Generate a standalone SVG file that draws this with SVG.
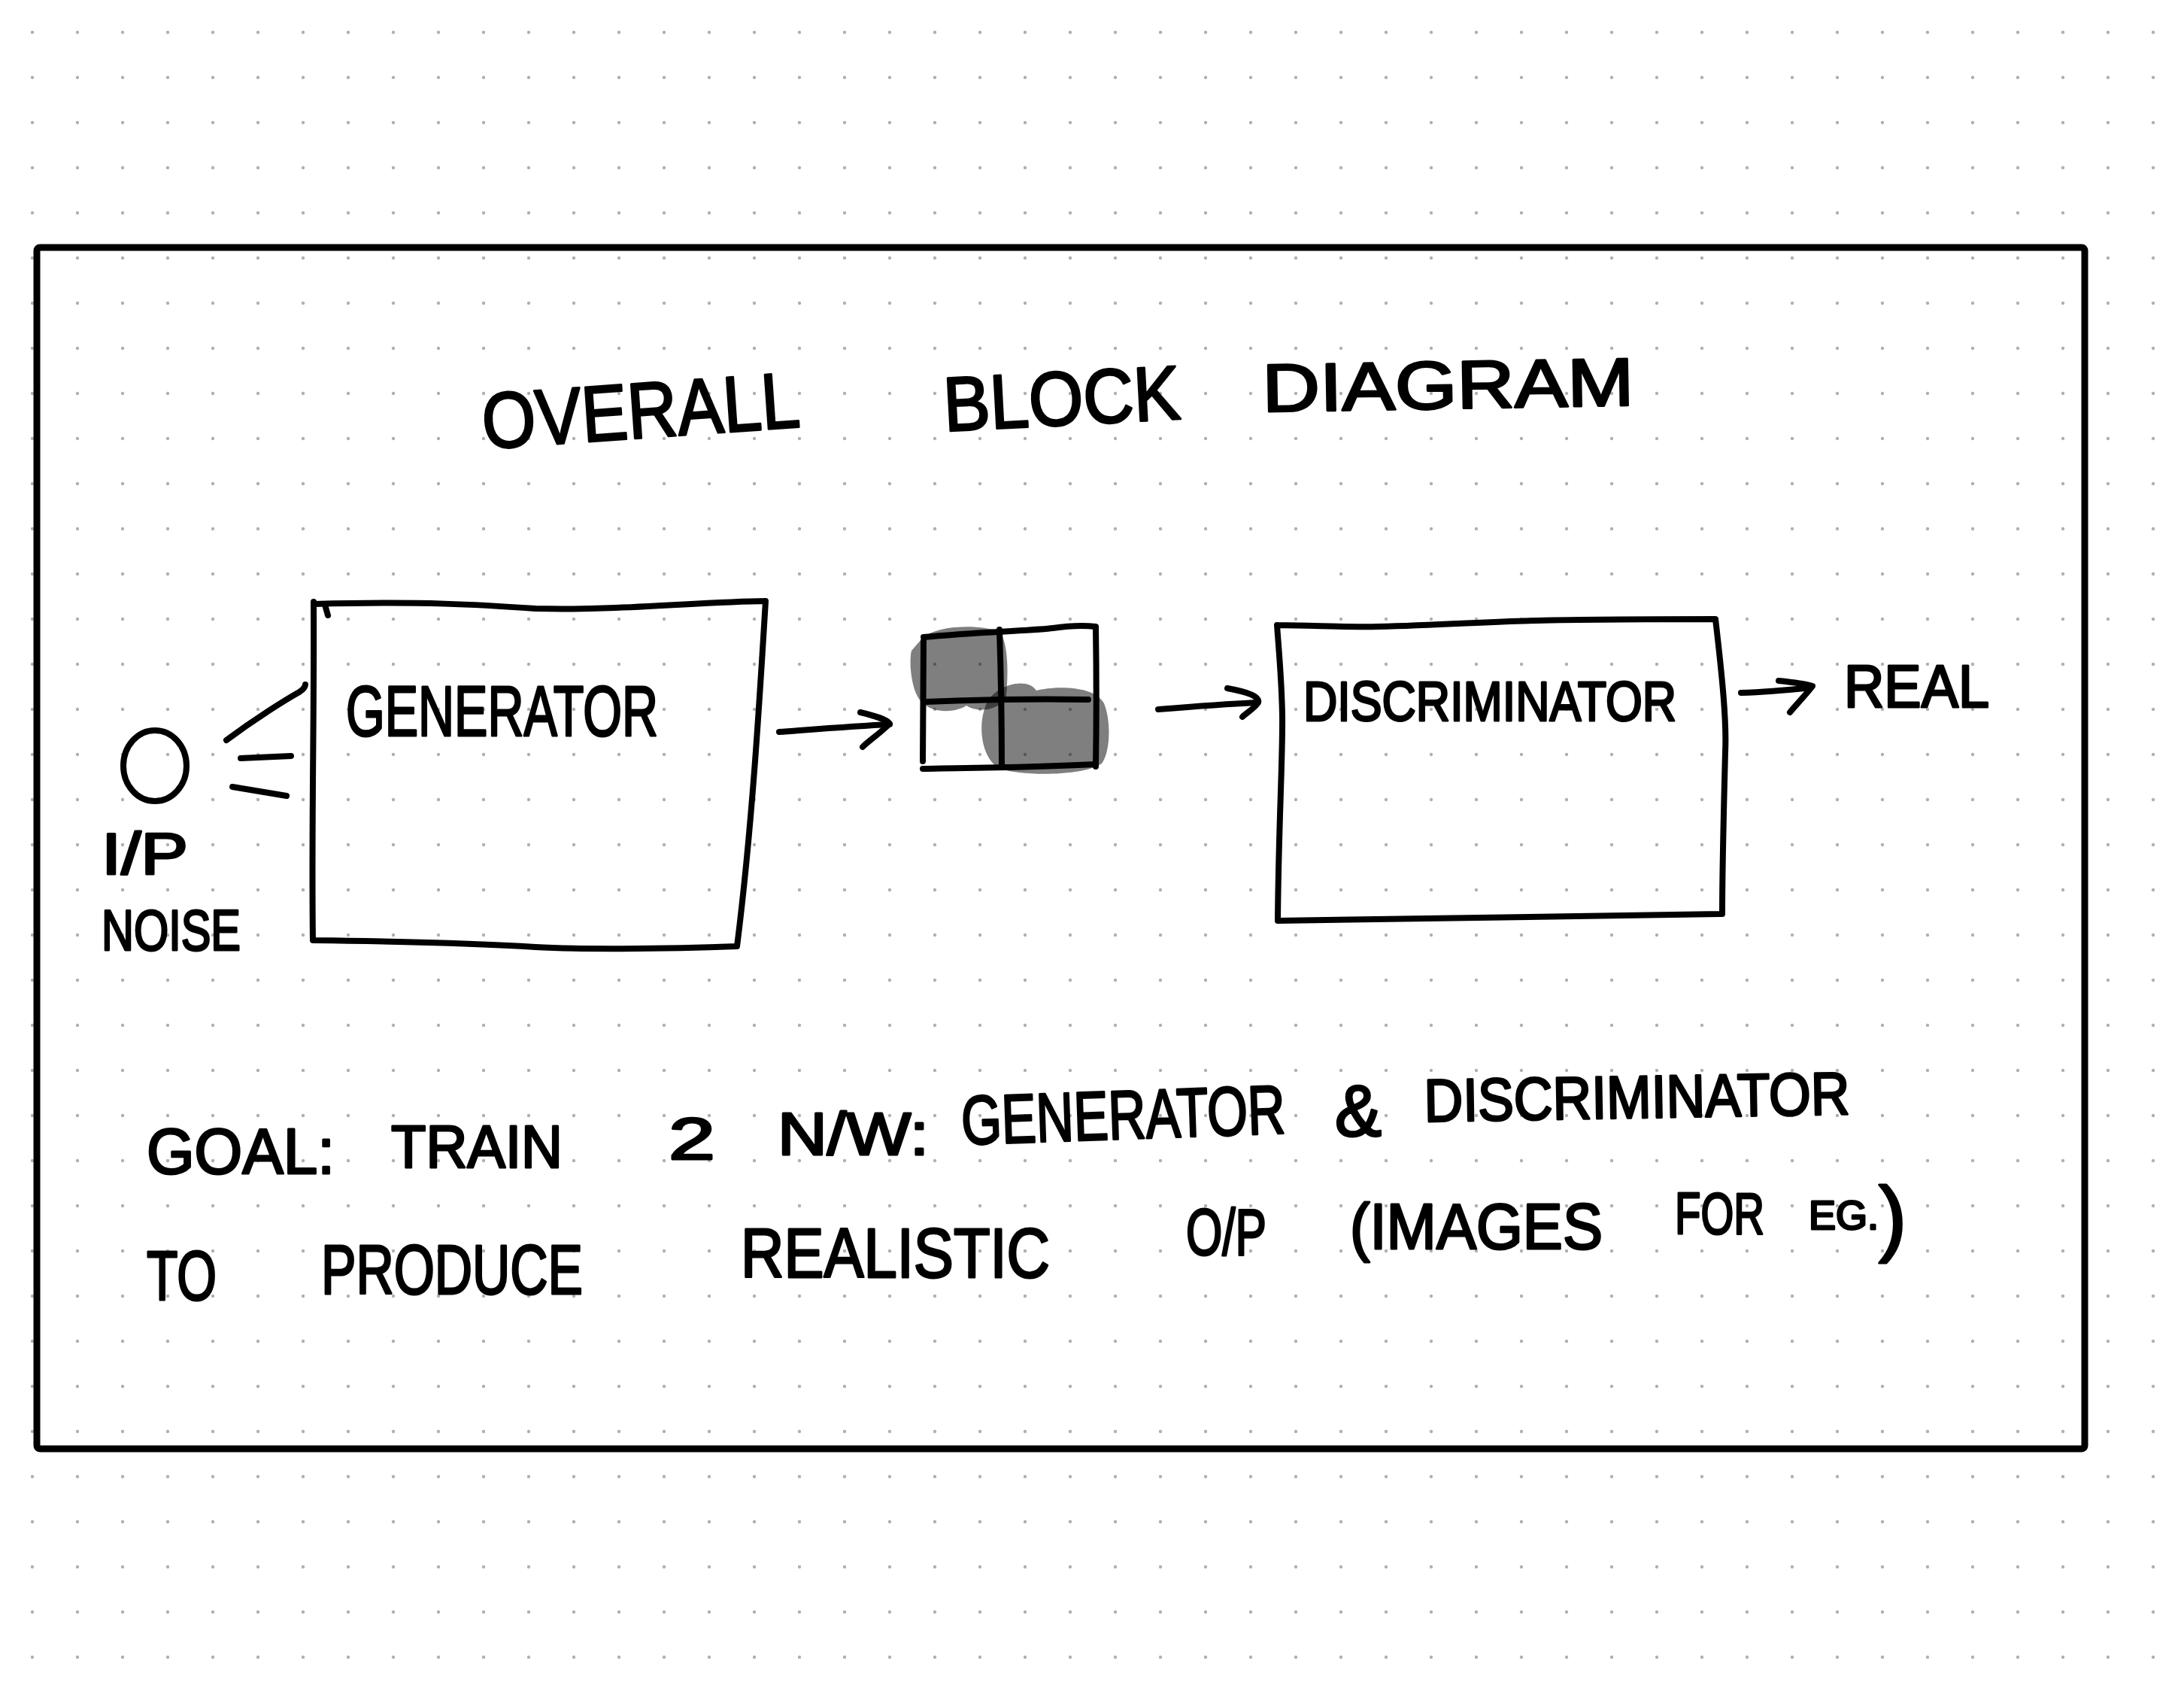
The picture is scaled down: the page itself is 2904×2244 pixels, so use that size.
<svg xmlns="http://www.w3.org/2000/svg" width="2904" height="2244" viewBox="0 0 2904 2244">
  <defs>
    <pattern id="dots" x="13" y="13" width="60" height="60" patternUnits="userSpaceOnUse">
      <circle cx="30" cy="30" r="2.2" fill="#b0b0b0"/>
    </pattern>
    <style>
      .ink { fill: none; stroke: #000; stroke-width: 8; stroke-linecap: round; stroke-linejoin: round; }
      .frame { fill: none; stroke: #000; stroke-width: 9; }
      .hand { font-family: "Liberation Sans", "DejaVu Sans", Arial, sans-serif; fill: #000; stroke: #000; stroke-width: 3; stroke-linejoin: round; }
      .blob { fill: #000; fill-opacity: 0.5; stroke: none; }
    </style>
  </defs>

  <rect x="0" y="0" width="2904" height="2244" fill="#ffffff"/>
  <rect x="13" y="13" width="2880" height="2220" fill="url(#dots)"/>

  <g id="frame">
    <rect class="frame" x="49" y="329" width="2723" height="1597" rx="4"/>
  </g>

  <g id="title">
    <text class="hand" x="643" y="582" font-size="105" textLength="423" lengthAdjust="spacingAndGlyphs" transform="rotate(-4 855 582)">OVERALL</text>
    <text class="hand" x="1256" y="565" font-size="102" textLength="315" lengthAdjust="spacingAndGlyphs" transform="rotate(-3 1413 565)">BLOCK</text>
    <text class="hand" x="1679" y="543" font-size="90" textLength="494" lengthAdjust="spacingAndGlyphs" transform="rotate(-1 1926 543)">DIAGRAM</text>
  </g>

  <g id="node-noise">
    <ellipse class="ink" cx="206" cy="1018" rx="42" ry="47"/>
    <text class="hand" x="135" y="1162" font-size="78" textLength="115" lengthAdjust="spacingAndGlyphs">I/P</text>
    <text class="hand" x="135" y="1263" font-size="76" textLength="185" lengthAdjust="spacingAndGlyphs">NOISE</text>
  </g>

  <g id="node-generator">
    <path class="ink" d="M418,803 C560,799 640,804 712,809 C820,812 930,800 1018,799 C1010,930 1000,1100 980,1258 C880,1262 760,1262 712,1259 C620,1253 500,1251 416,1250 C414,1100 418,950 417,800"/>
    <path class="ink" d="M432,804 L436,818"/>
    <text class="hand" x="460" y="978" font-size="95" textLength="415" lengthAdjust="spacingAndGlyphs">GENERATOR</text>
  </g>

  <g id="node-image">
    <path class="blob" d="M1225,850 C1240,832 1300,828 1330,840 C1342,860 1340,900 1338,925 C1330,945 1300,948 1285,938 C1270,948 1240,948 1228,935 C1212,925 1208,880 1212,865 Z"/>
    <path class="blob" d="M1310,940 C1318,912 1365,898 1378,918 C1400,912 1455,910 1468,935 C1478,960 1476,1000 1465,1015 C1440,1032 1360,1032 1330,1022 C1305,1010 1300,965 1310,940 Z"/>
    <path class="ink" d="M1228,847 C1300,840 1380,838 1400,835 C1420,832 1440,831 1457,833 C1458,900 1458,960 1457,1019"/>
    <path class="ink" d="M1228,852 C1228,920 1227,970 1227,1012"/>
    <path class="ink" d="M1227,1022 C1300,1021 1380,1020 1457,1016"/>
    <path class="ink" d="M1329,837 C1331,900 1332,960 1332,1020"/>
    <path class="ink" d="M1230,933 C1300,930 1380,929 1447,930"/>
  </g>

  <g id="node-discriminator">
    <path class="ink" d="M1698,831 C1760,832 1800,834 1832,833 C1920,831 1980,826 2043,825 C2120,823 2200,823 2281,823 C2290,900 2296,960 2294,1000 C2292,1080 2290,1150 2290,1215 C2100,1218 1900,1221 1699,1224 C1700,1100 1706,1000 1705,950 C1704,900 1700,860 1698,831"/>
    <text class="hand" x="1733" y="958" font-size="74" textLength="496" lengthAdjust="spacingAndGlyphs">DISCRIMINATOR</text>
  </g>

  <g id="node-real">
    <text class="hand" x="2452" y="940" font-size="80" textLength="193" lengthAdjust="spacingAndGlyphs">REAL</text>
  </g>

  <g id="connectors">
    <path class="ink" d="M301,984 C340,955 380,930 398,920 C404,916 406,912 406,910"/>
    <path class="ink" d="M320,1008 L387,1005"/>
    <path class="ink" d="M309,1046 L381,1058"/>
    <path class="ink" d="M1036,973 C1090,969 1140,965 1183,963"/>
    <path class="ink" d="M1144,947 C1165,952 1178,956 1183,962 C1170,975 1155,985 1147,993"/>
    <path class="ink" d="M1540,943 C1590,939 1630,936 1670,934"/>
    <path class="ink" d="M1632,915 C1660,920 1675,926 1673,934 C1668,942 1658,947 1652,953"/>
    <path class="ink" d="M2315,921 C2350,920 2380,917 2408,914"/>
    <path class="ink" d="M2365,905 C2385,907 2400,909 2410,912 C2400,925 2388,937 2380,947"/>
  </g>

  <g id="goal-text">
    <text class="hand" x="195" y="1560" font-size="86" textLength="250" lengthAdjust="spacingAndGlyphs">GOAL:</text>
    <text class="hand" x="520" y="1552" font-size="80" textLength="228" lengthAdjust="spacingAndGlyphs">TRAIN</text>
    <text class="hand" x="889" y="1541" font-size="78" textLength="62" lengthAdjust="spacingAndGlyphs">2</text>
    <text class="hand" x="1034" y="1535" font-size="80" textLength="201" lengthAdjust="spacingAndGlyphs">N/W:</text>
    <text class="hand" x="1279" y="1514" font-size="92" textLength="431" lengthAdjust="spacingAndGlyphs" transform="rotate(-2 1494 1514)">GENERATOR</text>
    <text class="hand" x="1775" y="1510" font-size="96" textLength="62" lengthAdjust="spacingAndGlyphs">&amp;</text>
    <text class="hand" x="1894" y="1486" font-size="80" textLength="566" lengthAdjust="spacingAndGlyphs" transform="rotate(-1 2177 1486)">DISCRIMINATOR</text>

    <text class="hand" x="195" y="1728" font-size="92" textLength="93" lengthAdjust="spacingAndGlyphs">TO</text>
    <text class="hand" x="427" y="1720" font-size="92" textLength="348" lengthAdjust="spacingAndGlyphs">PRODUCE</text>
    <text class="hand" x="985" y="1698" font-size="92" textLength="411" lengthAdjust="spacingAndGlyphs">REALISTIC</text>
    <text class="hand" x="1577" y="1668" font-size="88" textLength="107" lengthAdjust="spacingAndGlyphs">O/P</text>
    <text class="hand" x="1795" y="1660" font-size="86" textLength="336" lengthAdjust="spacingAndGlyphs">(IMAGES</text>
    <text class="hand" x="2227" y="1640" font-size="78" textLength="119" lengthAdjust="spacingAndGlyphs">FOR</text>
    <text class="hand" x="2405" y="1634" font-size="54"><tspan>EG.</tspan><tspan font-size="112" dy="22">)</tspan></text>
  </g>
</svg>
